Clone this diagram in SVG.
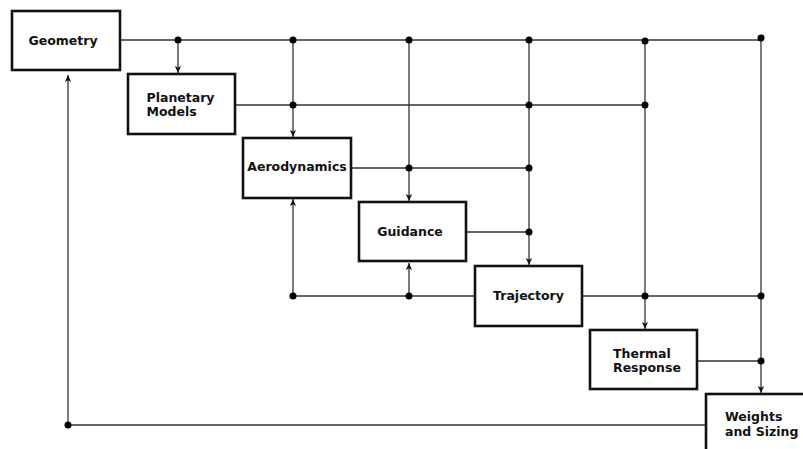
<svg xmlns="http://www.w3.org/2000/svg" width="803" height="449" viewBox="0 0 803 449">
<style>
.box{fill:#fff;stroke:#111;stroke-width:2.6}
.t{font-family:"DejaVu Sans",sans-serif;font-weight:bold;font-size:12.5px;fill:#111}
.ln{stroke:#333;stroke-width:1.3;fill:none}
.arr{marker-end:url(#ah)}
.dot{fill:#000}
</style>
<defs>
<marker id="ah" viewBox="0 0 8 8" refX="8" refY="4" markerWidth="7" markerHeight="7" markerUnits="userSpaceOnUse" orient="auto">
<path d="M0,0.5 L8,4 L0,7.5 L2,4 z" fill="#111"/>
</marker>
</defs>
<rect width="803" height="449" fill="#fff"/>
<g id="connectors">
<path class="ln" d="M121,40 H761"/>
<path class="ln" d="M236,105 H645"/>
<path class="ln" d="M352,168 H529"/>
<path class="ln" d="M467,232 H529"/>
<path class="ln" d="M293,296 H474 M583,296 H761"/>
<path class="ln" d="M698,361 H761"/>
<path class="ln" d="M705,425 H68"/>
<path class="ln arr" d="M178,40 V73"/>
<path class="ln arr" d="M293,40 V137"/>
<path class="ln arr" d="M409,40 V201"/>
<path class="ln arr" d="M529,40 V265"/>
<path class="ln arr" d="M645,41 V329"/>
<path class="ln arr" d="M761,38 V393"/>
<path class="ln arr" d="M68,425 V75"/>
<path class="ln arr" d="M293,296 V199"/>
<path class="ln arr" d="M409,296 V263"/>
<g class="dot">
<circle cx="178" cy="40" r="3.5"/>
<circle cx="293" cy="40" r="3.5"/>
<circle cx="409" cy="40" r="3.5"/>
<circle cx="529" cy="40" r="3.5"/>
<circle cx="645" cy="41" r="3.5"/>
<circle cx="761" cy="38" r="3.5"/>
<circle cx="293" cy="105" r="3.5"/>
<circle cx="529" cy="105" r="3.5"/>
<circle cx="645" cy="105" r="3.5"/>
<circle cx="409" cy="168" r="3.5"/>
<circle cx="529" cy="168" r="3.5"/>
<circle cx="529" cy="232" r="3.5"/>
<circle cx="293" cy="296" r="3.5"/>
<circle cx="409" cy="296" r="3.5"/>
<circle cx="645" cy="296" r="3.5"/>
<circle cx="761" cy="296" r="3.5"/>
<circle cx="761" cy="361" r="3.5"/>
<circle cx="68" cy="425" r="3.5"/>
</g>
</g>
<g id="geometry">
<rect class="box" x="12" y="11" width="108" height="59"/>
<text class="t" x="63" y="45" text-anchor="middle">Geometry</text>
</g>
<g id="planetary-models">
<rect class="box" x="128" y="74" width="107" height="60"/>
<text class="t" x="146.5" y="102">Planetary</text>
<text class="t" x="146.5" y="116">Models</text>
</g>
<g id="aerodynamics">
<rect class="box" x="243" y="138" width="108" height="60"/>
<text class="t" x="297" y="171" text-anchor="middle">Aerodynamics</text>
</g>
<g id="guidance">
<rect class="box" x="359" y="202" width="107" height="59"/>
<text class="t" x="410" y="235.5" text-anchor="middle">Guidance</text>
</g>
<g id="trajectory">
<rect class="box" x="475" y="266" width="107" height="60"/>
<text class="t" x="528.5" y="300" text-anchor="middle">Trajectory</text>
</g>
<g id="thermal-response">
<rect class="box" x="590" y="330" width="107" height="59"/>
<text class="t" x="613" y="357.5">Thermal</text>
<text class="t" x="613" y="372">Response</text>
</g>
<g id="weights-and-sizing">
<rect class="box" x="706" y="394" width="108" height="62"/>
<text class="t" x="725" y="421">Weights</text>
<text class="t" x="725" y="436">and Sizing</text>
</g>
</svg>
